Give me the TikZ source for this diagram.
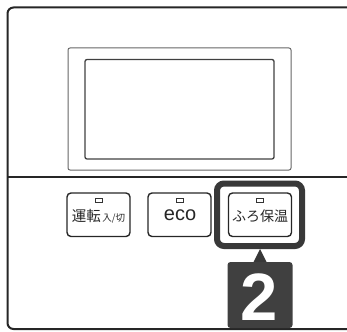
\documentclass[tikz,border=0pt]{standalone}
\usepackage{fontspec}
\setmainfont{Liberation Sans}
\newfontfamily\jp{Noto Sans CJK JP}
\newfontfamily\numfont{Liberation Sans}
\begin{document}
\begin{tikzpicture}[x=1pt,y=-1pt,
  panel/.style={line width=2pt,draw=black!85,rounded corners=6pt},
  disp/.style={line width=1pt,draw=black!60,rounded corners=2pt},
  screen/.style={line width=1.3pt,draw=black!75,rounded corners=2pt},
  btn/.style={line width=1.4pt,draw=black!85,rounded corners=4pt},
  led/.style={line width=0.9pt,draw=black!80},
  hilite/.style={line width=6pt,draw=black!78,rounded corners=7pt},
  numbox/.style={fill=black!75,rounded corners=3pt},
  lbl/.style={inner sep=0pt,text=black!85}]
\useasboundingbox (0,0) rectangle (347,331);
% panel
\draw[panel] (348,7.5) -- (7.5,7.5) -- (7.5,329) -- (348,329);
\draw[line width=1.2pt,draw=black!85] (7.5,177) coordinate (dl) -- (348,177) coordinate (dr);
% display
\draw[disp] (68,48) rectangle (291,170);
\draw[screen] (85,59.5) rectangle (274,159);
% buttons
\draw[btn] (67,193) rectangle (130,236.5);
\draw[btn] (148,193) rectangle (211,236.5);
\draw[btn] (228.5,193) rectangle (291.5,236.5);
% leds
\draw[led] (95.5,198.5) rectangle (102.5,202.5);
\draw[led] (176.5,198.5) rectangle (183.5,202.5);
\draw[led] (256.5,198.5) rectangle (263.5,202.5);
% labels
\node[lbl] (b1) at (98.5,216) {\jp\fontsize{14.5}{16}\selectfont 運転\hspace{1.5pt}\fontsize{9.5}{11}\selectfont 入/切};
\node[lbl] (b2) at (180,215.5) {\fontsize{20}{22}\selectfont eco};
\node[lbl] (b3) at (260,216.5) {\jp\fontsize{14}{16}\selectfont ふろ保温};
% highlight
\draw[hilite] (217,183.5) rectangle (302,246);
\fill[black!78] (253,263) -- (260,249) -- (267,263) -- cycle;
\fill[numbox] (227.5,262) rectangle (292.5,328);
\node[inner sep=0pt,text=white,text height=48pt,text depth=0pt] (n2) at (259.5,296.5) {\numfont\bfseries\fontsize{67}{70}\selectfont 2};
\end{tikzpicture}
\end{document}
